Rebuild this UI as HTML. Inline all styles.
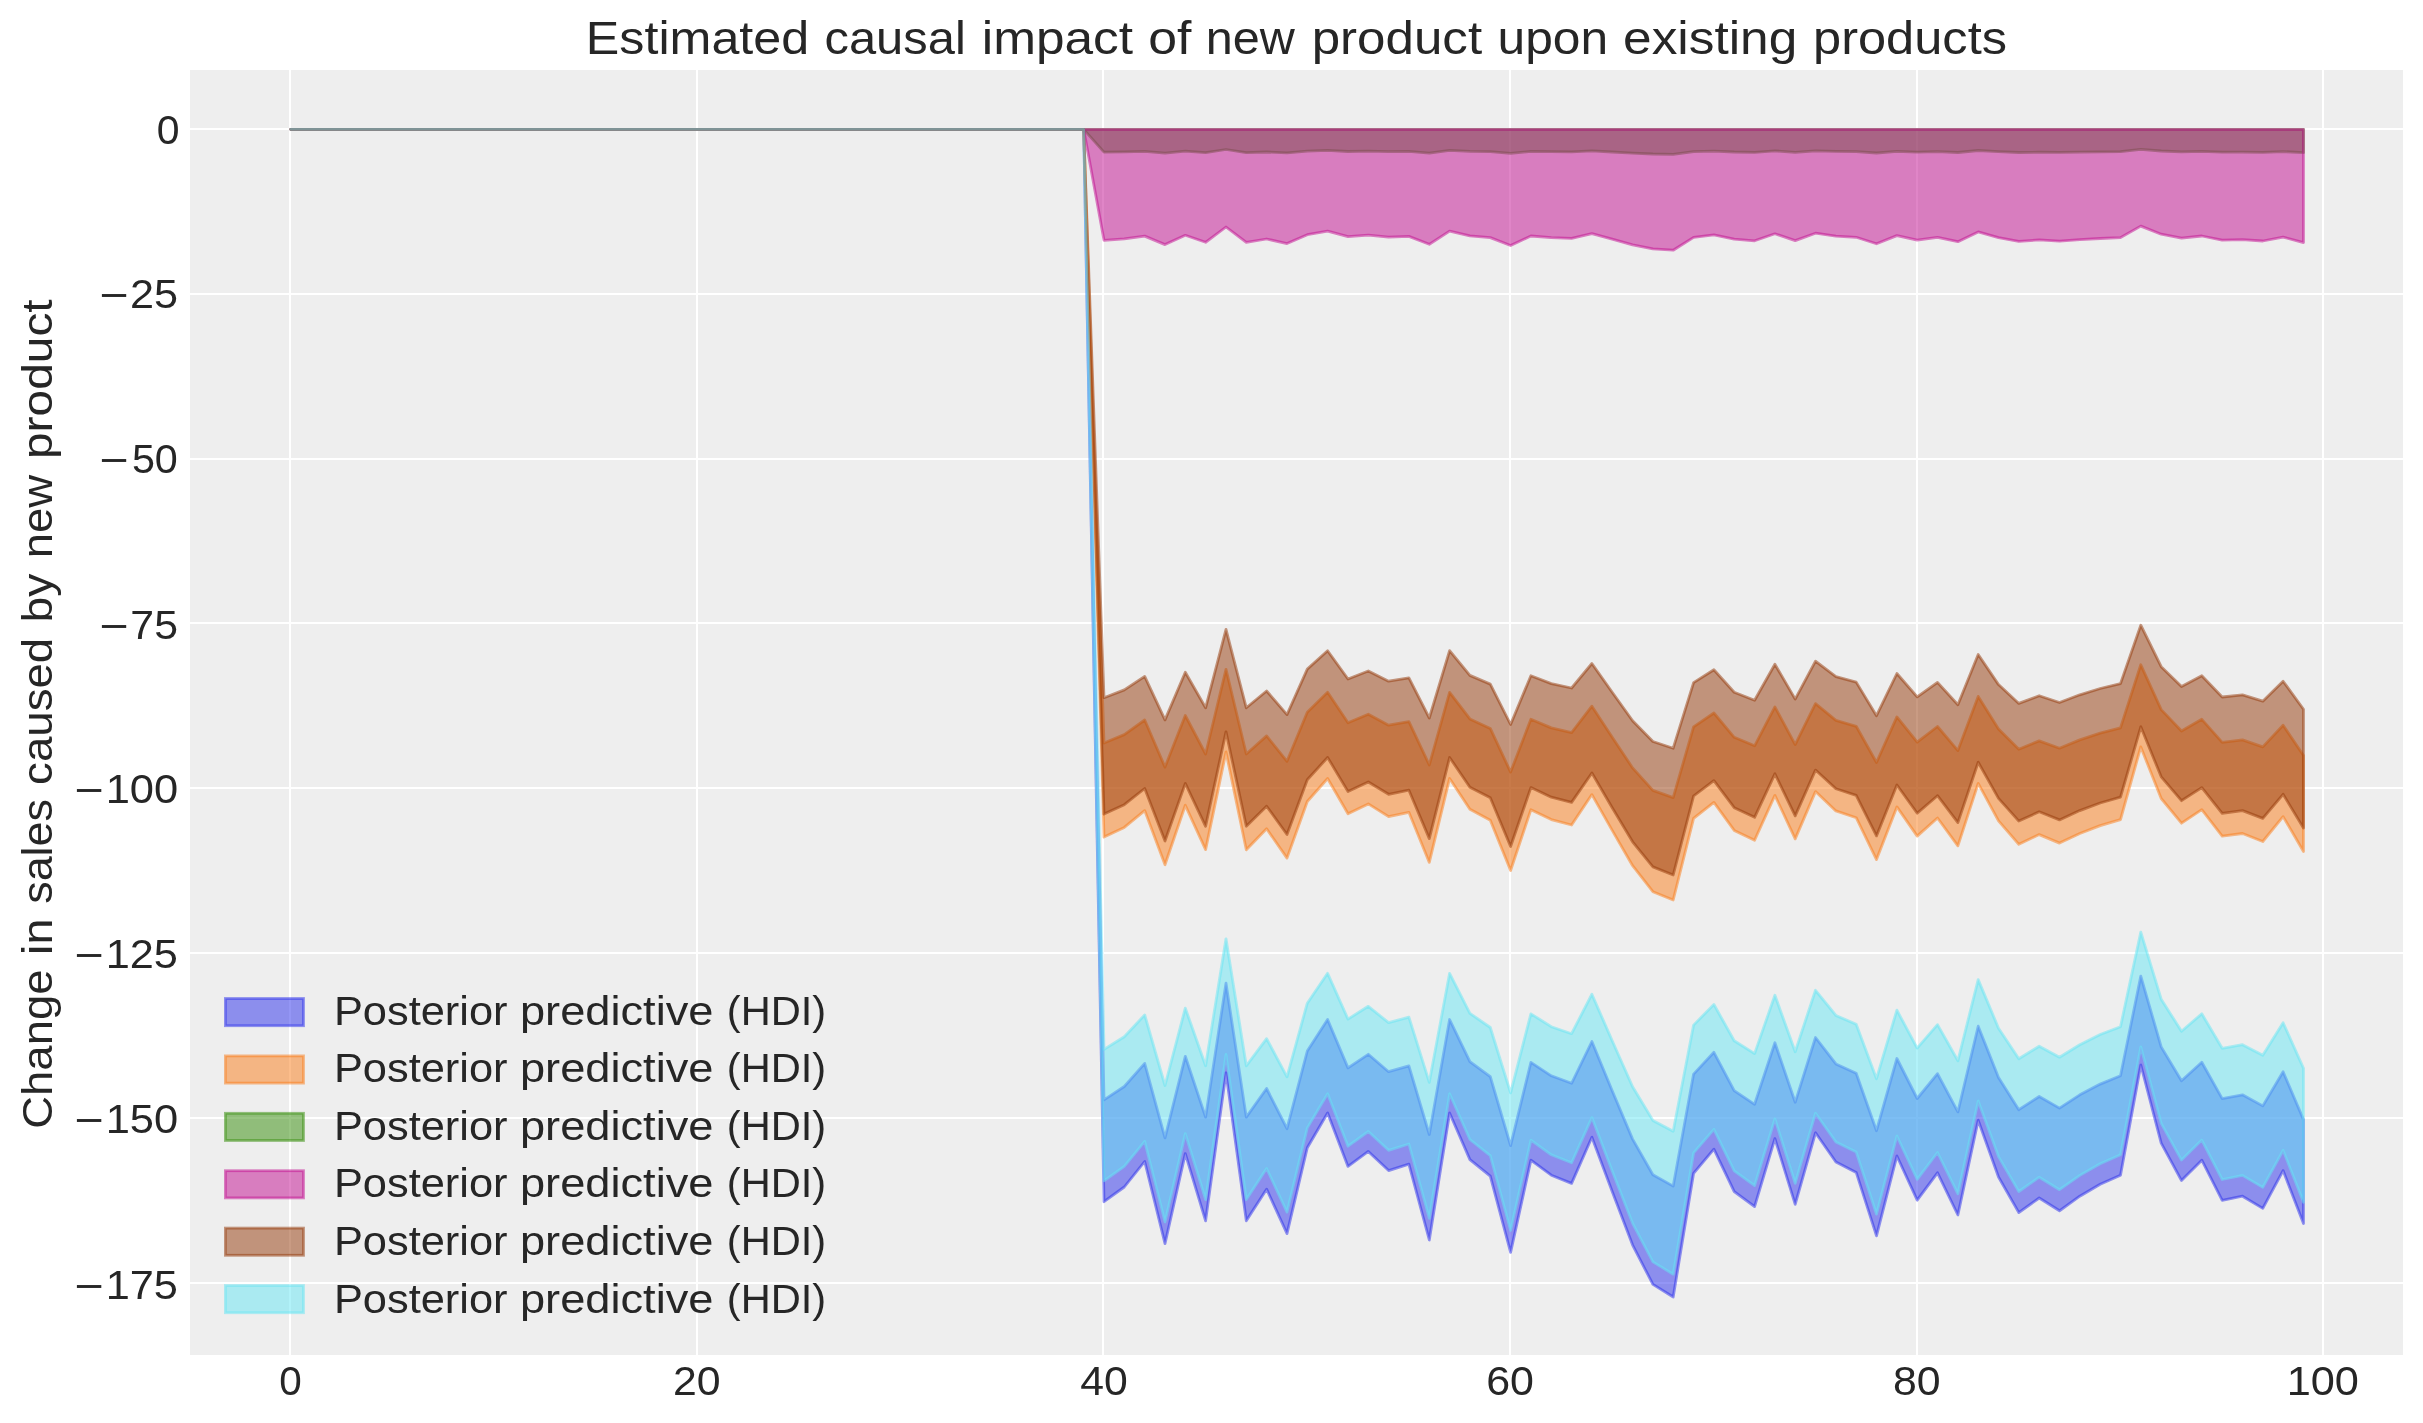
<!DOCTYPE html>
<html><head><meta charset="utf-8"><title>Estimated causal impact</title>
<style>
html,body{margin:0;padding:0;background:#fff;}
body{width:2423px;height:1423px;overflow:hidden;}
svg{display:block;will-change:transform;}
text{font-family:"Liberation Sans",sans-serif;fill:#262626;}
</style></head><body>
<svg width="2423" height="1423" viewBox="0 0 2423 1423">
<rect x="0" y="0" width="2423" height="1423" fill="#ffffff"/>
<rect x="190.0" y="70.0" width="2213.0" height="1285.0" fill="#eeeeee"/>
<defs><clipPath id="ax"><rect x="190.0" y="70.0" width="2213.0" height="1285.0"/></clipPath></defs>

<g fill="#ffffff" shape-rendering="crispEdges">
<rect x="289" y="70.0" width="2" height="1285.0"/>
<rect x="696" y="70.0" width="2" height="1285.0"/>
<rect x="1102" y="70.0" width="2" height="1285.0"/>
<rect x="1509" y="70.0" width="2" height="1285.0"/>
<rect x="1916" y="70.0" width="2" height="1285.0"/>
<rect x="2322" y="70.0" width="2" height="1285.0"/>
<rect x="190.0" y="128" width="2213.0" height="2"/>
<rect x="190.0" y="293" width="2213.0" height="2"/>
<rect x="190.0" y="458" width="2213.0" height="2"/>
<rect x="190.0" y="622" width="2213.0" height="2"/>
<rect x="190.0" y="787" width="2213.0" height="2"/>
<rect x="190.0" y="952" width="2213.0" height="2"/>
<rect x="190.0" y="1117" width="2213.0" height="2"/>
<rect x="190.0" y="1282" width="2213.0" height="2"/>
</g>
<g clip-path="url(#ax)" stroke-linejoin="round">
<polygon points="290.8,129.3 311.1,129.3 331.5,129.3 351.8,129.3 372.1,129.3 392.4,129.3 412.8,129.3 433.1,129.3 453.4,129.3 473.8,129.3 494.1,129.3 514.4,129.3 534.8,129.3 555.1,129.3 575.4,129.3 595.8,129.3 616.1,129.3 636.4,129.3 656.7,129.3 677.1,129.3 697.4,129.3 717.7,129.3 738.1,129.3 758.4,129.3 778.7,129.3 799.0,129.3 819.4,129.3 839.7,129.3 860.0,129.3 880.4,129.3 900.7,129.3 921.0,129.3 941.4,129.3 961.7,129.3 982.0,129.3 1002.3,129.3 1022.7,129.3 1043.0,129.3 1063.3,129.3 1083.7,129.3 1104.0,1099.8 1124.3,1086.5 1144.7,1063.4 1165.0,1137.8 1185.3,1056.3 1205.6,1117.1 1226.0,983.2 1246.3,1117.1 1266.6,1088.5 1287.0,1128.7 1307.3,1051.0 1327.6,1019.5 1348.0,1067.9 1368.3,1054.3 1388.6,1071.7 1408.9,1065.9 1429.3,1134.5 1449.6,1019.5 1469.9,1061.7 1490.3,1076.7 1510.6,1145.7 1530.9,1062.3 1551.3,1075.8 1571.6,1083.3 1591.9,1041.5 1612.2,1090.7 1632.6,1139.1 1652.9,1174.7 1673.2,1186.1 1693.6,1074.1 1713.9,1052.3 1734.2,1090.7 1754.6,1104.3 1774.9,1042.7 1795.2,1102.3 1815.5,1037.5 1835.9,1063.9 1856.2,1073.3 1876.5,1130.7 1896.9,1058.5 1917.2,1098.5 1937.5,1073.7 1957.9,1111.9 1978.2,1026.2 1998.5,1077.5 2018.8,1109.7 2039.2,1096.5 2059.5,1108.1 2079.8,1094.8 2100.2,1084.1 2120.5,1075.8 2140.8,976.1 2161.2,1046.9 2181.5,1080.7 2201.8,1062.3 2222.2,1098.6 2242.5,1094.8 2262.8,1105.9 2283.1,1071.7 2303.5,1119.6 2303.5,1223.6 2283.1,1170.6 2262.8,1208.4 2242.5,1196.2 2222.2,1200.4 2201.8,1160.2 2181.5,1180.6 2161.2,1143.2 2140.8,1065.0 2120.5,1175.2 2100.2,1184.3 2079.8,1196.2 2059.5,1210.8 2039.2,1198.0 2018.8,1212.6 1998.5,1177.0 1978.2,1120.3 1957.9,1215.0 1937.5,1172.8 1917.2,1200.2 1896.9,1156.0 1876.5,1235.8 1856.2,1172.4 1835.9,1162.0 1815.5,1132.8 1795.2,1204.4 1774.9,1138.6 1754.6,1206.6 1734.2,1191.6 1713.9,1149.2 1693.6,1173.3 1673.2,1297.0 1652.9,1284.4 1632.6,1245.1 1612.2,1191.6 1591.9,1137.3 1571.6,1183.4 1551.3,1175.2 1530.9,1160.2 1510.6,1252.4 1490.3,1176.1 1469.9,1159.6 1449.6,1113.0 1429.3,1240.0 1408.9,1164.2 1388.6,1170.6 1368.3,1151.4 1348.0,1166.4 1327.6,1113.0 1307.3,1147.8 1287.0,1233.6 1266.6,1189.2 1246.3,1220.8 1226.0,1072.8 1205.6,1220.8 1185.3,1153.6 1165.0,1243.7 1144.7,1161.5 1124.3,1187.0 1104.0,1201.7 1083.7,129.3 1063.3,129.3 1043.0,129.3 1022.7,129.3 1002.3,129.3 982.0,129.3 961.7,129.3 941.4,129.3 921.0,129.3 900.7,129.3 880.4,129.3 860.0,129.3 839.7,129.3 819.4,129.3 799.0,129.3 778.7,129.3 758.4,129.3 738.1,129.3 717.7,129.3 697.4,129.3 677.1,129.3 656.7,129.3 636.4,129.3 616.1,129.3 595.8,129.3 575.4,129.3 555.1,129.3 534.8,129.3 514.4,129.3 494.1,129.3 473.8,129.3 453.4,129.3 433.1,129.3 412.8,129.3 392.4,129.3 372.1,129.3 351.8,129.3 331.5,129.3 311.1,129.3 290.8,129.3" fill="#2a2eec" fill-opacity="0.5" stroke="#2a2eec" stroke-opacity="0.5" stroke-width="2.78"/>
<polygon points="290.8,129.3 311.1,129.3 331.5,129.3 351.8,129.3 372.1,129.3 392.4,129.3 412.8,129.3 433.1,129.3 453.4,129.3 473.8,129.3 494.1,129.3 514.4,129.3 534.8,129.3 555.1,129.3 575.4,129.3 595.8,129.3 616.1,129.3 636.4,129.3 656.7,129.3 677.1,129.3 697.4,129.3 717.7,129.3 738.1,129.3 758.4,129.3 778.7,129.3 799.0,129.3 819.4,129.3 839.7,129.3 860.0,129.3 880.4,129.3 900.7,129.3 921.0,129.3 941.4,129.3 961.7,129.3 982.0,129.3 1002.3,129.3 1022.7,129.3 1043.0,129.3 1063.3,129.3 1083.7,129.3 1104.0,743.0 1124.3,734.6 1144.7,720.0 1165.0,767.1 1185.3,715.5 1205.6,754.0 1226.0,669.3 1246.3,754.0 1266.6,735.9 1287.0,761.3 1307.3,712.2 1327.6,692.3 1348.0,722.8 1368.3,714.2 1388.6,725.2 1408.9,721.6 1429.3,765.0 1449.6,692.3 1469.9,718.9 1490.3,728.4 1510.6,772.1 1530.9,719.3 1551.3,727.9 1571.6,732.6 1591.9,706.2 1612.2,737.3 1632.6,767.9 1652.9,790.4 1673.2,797.6 1693.6,726.8 1713.9,713.0 1734.2,737.3 1754.6,745.8 1774.9,706.9 1795.2,744.6 1815.5,703.6 1835.9,720.3 1856.2,726.3 1876.5,762.5 1896.9,716.9 1917.2,742.2 1937.5,726.5 1957.9,750.6 1978.2,696.4 1998.5,728.9 2018.8,749.3 2039.2,740.9 2059.5,748.2 2079.8,739.9 2100.2,733.1 2120.5,727.9 2140.8,664.8 2161.2,709.6 2181.5,731.0 2201.8,719.3 2222.2,742.3 2242.5,739.9 2262.8,746.9 2283.1,725.2 2303.5,755.6 2303.5,851.5 2283.1,816.6 2262.8,841.5 2242.5,833.5 2222.2,836.2 2201.8,809.7 2181.5,823.2 2161.2,798.5 2140.8,746.9 2120.5,819.6 2100.2,825.6 2079.8,833.5 2059.5,843.1 2039.2,834.6 2018.8,844.3 1998.5,820.8 1978.2,783.4 1957.9,845.9 1937.5,818.0 1917.2,836.1 1896.9,806.9 1876.5,859.6 1856.2,817.7 1835.9,810.9 1815.5,791.6 1795.2,838.9 1774.9,795.4 1754.6,840.3 1734.2,830.4 1713.9,802.4 1693.6,818.3 1673.2,900.0 1652.9,891.7 1632.6,865.7 1612.2,830.4 1591.9,794.6 1571.6,825.0 1551.3,819.6 1530.9,809.7 1510.6,870.5 1490.3,820.2 1469.9,809.3 1449.6,778.5 1429.3,862.4 1408.9,812.3 1388.6,816.6 1368.3,803.9 1348.0,813.8 1327.6,778.5 1307.3,801.5 1287.0,858.1 1266.6,828.8 1246.3,849.7 1226.0,752.0 1205.6,849.7 1185.3,805.3 1165.0,864.8 1144.7,810.6 1124.3,827.4 1104.0,837.1 1083.7,129.3 1063.3,129.3 1043.0,129.3 1022.7,129.3 1002.3,129.3 982.0,129.3 961.7,129.3 941.4,129.3 921.0,129.3 900.7,129.3 880.4,129.3 860.0,129.3 839.7,129.3 819.4,129.3 799.0,129.3 778.7,129.3 758.4,129.3 738.1,129.3 717.7,129.3 697.4,129.3 677.1,129.3 656.7,129.3 636.4,129.3 616.1,129.3 595.8,129.3 575.4,129.3 555.1,129.3 534.8,129.3 514.4,129.3 494.1,129.3 473.8,129.3 453.4,129.3 433.1,129.3 412.8,129.3 392.4,129.3 372.1,129.3 351.8,129.3 331.5,129.3 311.1,129.3 290.8,129.3" fill="#fa7c17" fill-opacity="0.5" stroke="#fa7c17" stroke-opacity="0.5" stroke-width="2.78"/>
<polygon points="290.8,129.3 311.1,129.3 331.5,129.3 351.8,129.3 372.1,129.3 392.4,129.3 412.8,129.3 433.1,129.3 453.4,129.3 473.8,129.3 494.1,129.3 514.4,129.3 534.8,129.3 555.1,129.3 575.4,129.3 595.8,129.3 616.1,129.3 636.4,129.3 656.7,129.3 677.1,129.3 697.4,129.3 717.7,129.3 738.1,129.3 758.4,129.3 778.7,129.3 799.0,129.3 819.4,129.3 839.7,129.3 860.0,129.3 880.4,129.3 900.7,129.3 921.0,129.3 941.4,129.3 961.7,129.3 982.0,129.3 1002.3,129.3 1022.7,129.3 1043.0,129.3 1063.3,129.3 1083.7,129.3 1104.0,129.3 1124.3,129.3 1144.7,129.3 1165.0,129.3 1185.3,129.3 1205.6,129.3 1226.0,129.3 1246.3,129.3 1266.6,129.3 1287.0,129.3 1307.3,129.3 1327.6,129.3 1348.0,129.3 1368.3,129.3 1388.6,129.3 1408.9,129.3 1429.3,129.3 1449.6,129.3 1469.9,129.3 1490.3,129.3 1510.6,129.3 1530.9,129.3 1551.3,129.3 1571.6,129.3 1591.9,129.3 1612.2,129.3 1632.6,129.3 1652.9,129.3 1673.2,129.3 1693.6,129.3 1713.9,129.3 1734.2,129.3 1754.6,129.3 1774.9,129.3 1795.2,129.3 1815.5,129.3 1835.9,129.3 1856.2,129.3 1876.5,129.3 1896.9,129.3 1917.2,129.3 1937.5,129.3 1957.9,129.3 1978.2,129.3 1998.5,129.3 2018.8,129.3 2039.2,129.3 2059.5,129.3 2079.8,129.3 2100.2,129.3 2120.5,129.3 2140.8,129.3 2161.2,129.3 2181.5,129.3 2201.8,129.3 2222.2,129.3 2242.5,129.3 2262.8,129.3 2283.1,129.3 2303.5,129.3 2303.5,152.7 2283.1,151.6 2262.8,152.4 2242.5,152.1 2222.2,152.2 2201.8,151.4 2181.5,151.8 2161.2,151.0 2140.8,149.3 2120.5,151.7 2100.2,151.9 2079.8,152.1 2059.5,152.4 2039.2,152.2 2018.8,152.5 1998.5,151.7 1978.2,150.5 1957.9,152.5 1937.5,151.6 1917.2,152.2 1896.9,151.3 1876.5,153.0 1856.2,151.6 1835.9,151.4 1815.5,150.8 1795.2,152.3 1774.9,150.9 1754.6,152.4 1734.2,152.0 1713.9,151.1 1693.6,151.6 1673.2,154.3 1652.9,154.0 1632.6,153.2 1612.2,152.0 1591.9,150.9 1571.6,151.9 1551.3,151.7 1530.9,151.4 1510.6,153.3 1490.3,151.7 1469.9,151.3 1449.6,150.4 1429.3,153.1 1408.9,151.4 1388.6,151.6 1368.3,151.2 1348.0,151.5 1327.6,150.4 1307.3,151.1 1287.0,152.9 1266.6,152.0 1246.3,152.7 1226.0,149.5 1205.6,152.7 1185.3,151.2 1165.0,153.1 1144.7,151.4 1124.3,151.9 1104.0,152.2 1083.7,129.3 1063.3,129.3 1043.0,129.3 1022.7,129.3 1002.3,129.3 982.0,129.3 961.7,129.3 941.4,129.3 921.0,129.3 900.7,129.3 880.4,129.3 860.0,129.3 839.7,129.3 819.4,129.3 799.0,129.3 778.7,129.3 758.4,129.3 738.1,129.3 717.7,129.3 697.4,129.3 677.1,129.3 656.7,129.3 636.4,129.3 616.1,129.3 595.8,129.3 575.4,129.3 555.1,129.3 534.8,129.3 514.4,129.3 494.1,129.3 473.8,129.3 453.4,129.3 433.1,129.3 412.8,129.3 392.4,129.3 372.1,129.3 351.8,129.3 331.5,129.3 311.1,129.3 290.8,129.3" fill="#328c06" fill-opacity="0.5" stroke="#328c06" stroke-opacity="0.5" stroke-width="2.78"/>
<polygon points="290.8,129.3 311.1,129.3 331.5,129.3 351.8,129.3 372.1,129.3 392.4,129.3 412.8,129.3 433.1,129.3 453.4,129.3 473.8,129.3 494.1,129.3 514.4,129.3 534.8,129.3 555.1,129.3 575.4,129.3 595.8,129.3 616.1,129.3 636.4,129.3 656.7,129.3 677.1,129.3 697.4,129.3 717.7,129.3 738.1,129.3 758.4,129.3 778.7,129.3 799.0,129.3 819.4,129.3 839.7,129.3 860.0,129.3 880.4,129.3 900.7,129.3 921.0,129.3 941.4,129.3 961.7,129.3 982.0,129.3 1002.3,129.3 1022.7,129.3 1043.0,129.3 1063.3,129.3 1083.7,129.3 1104.0,129.3 1124.3,129.3 1144.7,129.3 1165.0,129.3 1185.3,129.3 1205.6,129.3 1226.0,129.3 1246.3,129.3 1266.6,129.3 1287.0,129.3 1307.3,129.3 1327.6,129.3 1348.0,129.3 1368.3,129.3 1388.6,129.3 1408.9,129.3 1429.3,129.3 1449.6,129.3 1469.9,129.3 1490.3,129.3 1510.6,129.3 1530.9,129.3 1551.3,129.3 1571.6,129.3 1591.9,129.3 1612.2,129.3 1632.6,129.3 1652.9,129.3 1673.2,129.3 1693.6,129.3 1713.9,129.3 1734.2,129.3 1754.6,129.3 1774.9,129.3 1795.2,129.3 1815.5,129.3 1835.9,129.3 1856.2,129.3 1876.5,129.3 1896.9,129.3 1917.2,129.3 1937.5,129.3 1957.9,129.3 1978.2,129.3 1998.5,129.3 2018.8,129.3 2039.2,129.3 2059.5,129.3 2079.8,129.3 2100.2,129.3 2120.5,129.3 2140.8,129.3 2161.2,129.3 2181.5,129.3 2201.8,129.3 2222.2,129.3 2242.5,129.3 2262.8,129.3 2283.1,129.3 2303.5,129.3 2303.5,242.6 2283.1,237.1 2262.8,241.0 2242.5,239.7 2222.2,240.2 2201.8,236.0 2181.5,238.1 2161.2,234.2 2140.8,226.1 2120.5,237.6 2100.2,238.5 2079.8,239.7 2059.5,241.2 2039.2,239.9 2018.8,241.4 1998.5,237.7 1978.2,231.9 1957.9,241.7 1937.5,237.3 1917.2,240.1 1896.9,235.6 1876.5,243.8 1856.2,237.3 1835.9,236.2 1815.5,233.2 1795.2,240.6 1774.9,233.8 1754.6,240.8 1734.2,239.2 1713.9,234.9 1693.6,237.4 1673.2,250.2 1652.9,248.9 1632.6,244.8 1612.2,239.2 1591.9,233.6 1571.6,238.4 1551.3,237.6 1530.9,236.0 1510.6,245.5 1490.3,237.6 1469.9,235.9 1449.6,231.1 1429.3,244.3 1408.9,236.4 1388.6,237.1 1368.3,235.1 1348.0,236.6 1327.6,231.1 1307.3,234.7 1287.0,243.6 1266.6,239.0 1246.3,242.3 1226.0,227.0 1205.6,242.3 1185.3,235.3 1165.0,244.6 1144.7,236.1 1124.3,238.8 1104.0,240.3 1083.7,129.3 1063.3,129.3 1043.0,129.3 1022.7,129.3 1002.3,129.3 982.0,129.3 961.7,129.3 941.4,129.3 921.0,129.3 900.7,129.3 880.4,129.3 860.0,129.3 839.7,129.3 819.4,129.3 799.0,129.3 778.7,129.3 758.4,129.3 738.1,129.3 717.7,129.3 697.4,129.3 677.1,129.3 656.7,129.3 636.4,129.3 616.1,129.3 595.8,129.3 575.4,129.3 555.1,129.3 534.8,129.3 514.4,129.3 494.1,129.3 473.8,129.3 453.4,129.3 433.1,129.3 412.8,129.3 392.4,129.3 372.1,129.3 351.8,129.3 331.5,129.3 311.1,129.3 290.8,129.3" fill="#c10c90" fill-opacity="0.5" stroke="#c10c90" stroke-opacity="0.5" stroke-width="2.78"/>
<polygon points="290.8,129.3 311.1,129.3 331.5,129.3 351.8,129.3 372.1,129.3 392.4,129.3 412.8,129.3 433.1,129.3 453.4,129.3 473.8,129.3 494.1,129.3 514.4,129.3 534.8,129.3 555.1,129.3 575.4,129.3 595.8,129.3 616.1,129.3 636.4,129.3 656.7,129.3 677.1,129.3 697.4,129.3 717.7,129.3 738.1,129.3 758.4,129.3 778.7,129.3 799.0,129.3 819.4,129.3 839.7,129.3 860.0,129.3 880.4,129.3 900.7,129.3 921.0,129.3 941.4,129.3 961.7,129.3 982.0,129.3 1002.3,129.3 1022.7,129.3 1043.0,129.3 1063.3,129.3 1083.7,129.3 1104.0,697.7 1124.3,689.9 1144.7,676.4 1165.0,719.9 1185.3,672.2 1205.6,707.8 1226.0,629.4 1246.3,707.8 1266.6,691.0 1287.0,714.6 1307.3,669.1 1327.6,650.7 1348.0,679.0 1368.3,671.0 1388.6,681.2 1408.9,677.8 1429.3,718.0 1449.6,650.7 1469.9,675.4 1490.3,684.1 1510.6,724.5 1530.9,675.7 1551.3,683.6 1571.6,688.0 1591.9,663.5 1612.2,692.3 1632.6,720.7 1652.9,741.5 1673.2,748.2 1693.6,682.6 1713.9,669.8 1734.2,692.3 1754.6,700.3 1774.9,664.2 1795.2,699.1 1815.5,661.2 1835.9,676.6 1856.2,682.1 1876.5,715.7 1896.9,673.5 1917.2,696.9 1937.5,682.4 1957.9,704.7 1978.2,654.5 1998.5,684.6 2018.8,703.4 2039.2,695.7 2059.5,702.5 2079.8,694.8 2100.2,688.5 2120.5,683.6 2140.8,625.2 2161.2,666.7 2181.5,686.5 2201.8,675.7 2222.2,697.0 2242.5,694.8 2262.8,701.2 2283.1,681.2 2303.5,709.3 2303.5,828.1 2283.1,794.3 2262.8,818.4 2242.5,810.6 2222.2,813.3 2201.8,787.6 2181.5,800.7 2161.2,776.8 2140.8,726.8 2120.5,797.2 2100.2,803.0 2079.8,810.6 2059.5,819.9 2039.2,811.8 2018.8,821.1 1998.5,798.4 1978.2,762.2 1957.9,822.6 1937.5,795.7 1917.2,813.2 1896.9,785.0 1876.5,835.9 1856.2,795.4 1835.9,788.8 1815.5,770.1 1795.2,815.9 1774.9,773.8 1754.6,817.3 1734.2,807.7 1713.9,780.6 1693.6,796.0 1673.2,875.0 1652.9,866.9 1632.6,841.8 1612.2,807.7 1591.9,773.0 1571.6,802.4 1551.3,797.2 1530.9,787.6 1510.6,846.5 1490.3,797.8 1469.9,787.2 1449.6,757.5 1429.3,838.6 1408.9,790.2 1388.6,794.3 1368.3,782.0 1348.0,791.6 1327.6,757.5 1307.3,779.7 1287.0,834.5 1266.6,806.2 1246.3,826.3 1226.0,731.8 1205.6,826.3 1185.3,783.4 1165.0,841.0 1144.7,788.5 1124.3,804.7 1104.0,814.1 1083.7,129.3 1063.3,129.3 1043.0,129.3 1022.7,129.3 1002.3,129.3 982.0,129.3 961.7,129.3 941.4,129.3 921.0,129.3 900.7,129.3 880.4,129.3 860.0,129.3 839.7,129.3 819.4,129.3 799.0,129.3 778.7,129.3 758.4,129.3 738.1,129.3 717.7,129.3 697.4,129.3 677.1,129.3 656.7,129.3 636.4,129.3 616.1,129.3 595.8,129.3 575.4,129.3 555.1,129.3 534.8,129.3 514.4,129.3 494.1,129.3 473.8,129.3 453.4,129.3 433.1,129.3 412.8,129.3 392.4,129.3 372.1,129.3 351.8,129.3 331.5,129.3 311.1,129.3 290.8,129.3" fill="#933708" fill-opacity="0.5" stroke="#933708" stroke-opacity="0.5" stroke-width="2.78"/>
<polygon points="290.8,129.3 311.1,129.3 331.5,129.3 351.8,129.3 372.1,129.3 392.4,129.3 412.8,129.3 433.1,129.3 453.4,129.3 473.8,129.3 494.1,129.3 514.4,129.3 534.8,129.3 555.1,129.3 575.4,129.3 595.8,129.3 616.1,129.3 636.4,129.3 656.7,129.3 677.1,129.3 697.4,129.3 717.7,129.3 738.1,129.3 758.4,129.3 778.7,129.3 799.0,129.3 819.4,129.3 839.7,129.3 860.0,129.3 880.4,129.3 900.7,129.3 921.0,129.3 941.4,129.3 961.7,129.3 982.0,129.3 1002.3,129.3 1022.7,129.3 1043.0,129.3 1063.3,129.3 1083.7,129.3 1104.0,1049.4 1124.3,1036.8 1144.7,1014.9 1165.0,1085.5 1185.3,1008.1 1205.6,1065.8 1226.0,938.8 1246.3,1065.8 1266.6,1038.7 1287.0,1076.8 1307.3,1003.2 1327.6,973.3 1348.0,1019.1 1368.3,1006.3 1388.6,1022.7 1408.9,1017.2 1429.3,1082.3 1449.6,973.3 1469.9,1013.3 1490.3,1027.5 1510.6,1092.9 1530.9,1013.8 1551.3,1026.7 1571.6,1033.7 1591.9,994.2 1612.2,1040.8 1632.6,1086.7 1652.9,1120.4 1673.2,1131.2 1693.6,1025.1 1713.9,1004.4 1734.2,1040.8 1754.6,1053.6 1774.9,995.3 1795.2,1051.7 1815.5,990.3 1835.9,1015.4 1856.2,1024.3 1876.5,1078.7 1896.9,1010.2 1917.2,1048.1 1937.5,1024.6 1957.9,1060.8 1978.2,979.6 1998.5,1028.2 2018.8,1058.8 2039.2,1046.2 2059.5,1057.2 2079.8,1044.7 2100.2,1034.5 2120.5,1026.7 2140.8,932.1 2161.2,999.2 2181.5,1031.3 2201.8,1013.8 2222.2,1048.3 2242.5,1044.7 2262.8,1055.2 2283.1,1022.7 2303.5,1068.2 2303.5,1202.3 2283.1,1150.3 2262.8,1187.4 2242.5,1175.4 2222.2,1179.5 2201.8,1140.1 2181.5,1160.1 2161.2,1123.4 2140.8,1046.8 2120.5,1154.8 2100.2,1163.7 2079.8,1175.4 2059.5,1189.7 2039.2,1177.2 2018.8,1191.5 1998.5,1156.6 1978.2,1101.0 1957.9,1193.8 1937.5,1152.5 1917.2,1179.3 1896.9,1136.0 1876.5,1214.2 1856.2,1152.1 1835.9,1141.9 1815.5,1113.2 1795.2,1183.4 1774.9,1118.9 1754.6,1185.6 1734.2,1170.9 1713.9,1129.3 1693.6,1152.9 1673.2,1274.2 1652.9,1261.9 1632.6,1223.3 1612.2,1170.9 1591.9,1117.6 1571.6,1162.8 1551.3,1154.8 1530.9,1140.1 1510.6,1230.5 1490.3,1155.7 1469.9,1139.5 1449.6,1093.8 1429.3,1218.3 1408.9,1144.0 1388.6,1150.3 1368.3,1131.5 1348.0,1146.2 1327.6,1093.8 1307.3,1127.9 1287.0,1212.1 1266.6,1168.5 1246.3,1199.5 1226.0,1054.4 1205.6,1199.5 1185.3,1133.6 1165.0,1222.0 1144.7,1141.4 1124.3,1166.4 1104.0,1180.8 1083.7,129.3 1063.3,129.3 1043.0,129.3 1022.7,129.3 1002.3,129.3 982.0,129.3 961.7,129.3 941.4,129.3 921.0,129.3 900.7,129.3 880.4,129.3 860.0,129.3 839.7,129.3 819.4,129.3 799.0,129.3 778.7,129.3 758.4,129.3 738.1,129.3 717.7,129.3 697.4,129.3 677.1,129.3 656.7,129.3 636.4,129.3 616.1,129.3 595.8,129.3 575.4,129.3 555.1,129.3 534.8,129.3 514.4,129.3 494.1,129.3 473.8,129.3 453.4,129.3 433.1,129.3 412.8,129.3 392.4,129.3 372.1,129.3 351.8,129.3 331.5,129.3 311.1,129.3 290.8,129.3" fill="#65e5f3" fill-opacity="0.5" stroke="#65e5f3" stroke-opacity="0.5" stroke-width="2.78"/>
</g>
<rect x="225.4" y="998.5" width="78.1" height="27.2" fill="#2a2eec" fill-opacity="0.5" stroke="#2a2eec" stroke-opacity="0.5" stroke-width="2.78"/>
<rect x="225.4" y="1055.9" width="78.1" height="27.2" fill="#fa7c17" fill-opacity="0.5" stroke="#fa7c17" stroke-opacity="0.5" stroke-width="2.78"/>
<rect x="225.4" y="1113.3" width="78.1" height="27.2" fill="#328c06" fill-opacity="0.5" stroke="#328c06" stroke-opacity="0.5" stroke-width="2.78"/>
<rect x="225.4" y="1170.7" width="78.1" height="27.2" fill="#c10c90" fill-opacity="0.5" stroke="#c10c90" stroke-opacity="0.5" stroke-width="2.78"/>
<rect x="225.4" y="1228.1" width="78.1" height="27.2" fill="#933708" fill-opacity="0.5" stroke="#933708" stroke-opacity="0.5" stroke-width="2.78"/>
<rect x="225.4" y="1285.5" width="78.1" height="27.2" fill="#65e5f3" fill-opacity="0.5" stroke="#65e5f3" stroke-opacity="0.5" stroke-width="2.78"/>
<g font-size="46.19"><text transform="translate(585.82,54.04) scale(1.0874,1)">Estimated</text><text transform="translate(824.52,54.04) scale(1.0580,1)">causal</text><text transform="translate(981.74,54.04) scale(1.1126,1)">impact</text><text transform="translate(1148.18,54.04) scale(1.1220,1)">of</text><text transform="translate(1205.82,54.04) scale(1.0515,1)">new</text><text transform="translate(1311.65,54.04) scale(1.1066,1)">product</text><text transform="translate(1497.52,54.04) scale(1.0769,1)">upon</text><text transform="translate(1623.07,54.04) scale(1.1125,1)">existing</text><text transform="translate(1813.03,54.04) scale(1.0949,1)">products</text></g>
<g font-size="43.3" transform="translate(0,1126.4) rotate(-90)"><text transform="translate(-2.36,51.63) scale(1.0506,1)">Change</text><text transform="translate(171.39,51.63) scale(1.0803,1)">in</text><text transform="translate(222.62,51.63) scale(1.0368,1)">sales</text><text transform="translate(341.52,51.63) scale(1.0540,1)">caused</text><text transform="translate(503.79,51.63) scale(1.0717,1)">by</text><text transform="translate(568.20,51.63) scale(1.0500,1)">new</text><text transform="translate(667.41,51.63) scale(1.1052,1)">product</text></g>
<g font-size="40.41"><text transform="translate(333.91,1024.65) scale(1.0741,1)">Posterior</text><text transform="translate(519.93,1024.65) scale(1.1192,1)">predictive</text><text transform="translate(726.79,1024.65) scale(1.0308,1)">(HDI)</text></g>
<g font-size="40.41"><text transform="translate(333.91,1082.25) scale(1.0741,1)">Posterior</text><text transform="translate(519.93,1082.25) scale(1.1192,1)">predictive</text><text transform="translate(726.79,1082.25) scale(1.0308,1)">(HDI)</text></g>
<g font-size="40.41"><text transform="translate(333.91,1139.85) scale(1.0741,1)">Posterior</text><text transform="translate(519.93,1139.85) scale(1.1192,1)">predictive</text><text transform="translate(726.79,1139.85) scale(1.0308,1)">(HDI)</text></g>
<g font-size="40.41"><text transform="translate(333.91,1197.45) scale(1.0741,1)">Posterior</text><text transform="translate(519.93,1197.45) scale(1.1192,1)">predictive</text><text transform="translate(726.79,1197.45) scale(1.0308,1)">(HDI)</text></g>
<g font-size="40.41"><text transform="translate(333.91,1255.05) scale(1.0741,1)">Posterior</text><text transform="translate(519.93,1255.05) scale(1.1192,1)">predictive</text><text transform="translate(726.79,1255.05) scale(1.0308,1)">(HDI)</text></g>
<g font-size="40.41"><text transform="translate(333.91,1312.65) scale(1.0741,1)">Posterior</text><text transform="translate(519.93,1312.65) scale(1.1192,1)">predictive</text><text transform="translate(726.79,1312.65) scale(1.0308,1)">(HDI)</text></g>
<g font-size="41.31"><text transform="translate(279.23,1394.68) scale(0.9798,1)">0</text></g>
<g font-size="41.31"><text transform="translate(673.00,1394.68) scale(1.0366,1)">20</text></g>
<g font-size="41.31"><text transform="translate(1080.16,1394.68) scale(1.0346,1)">40</text></g>
<g font-size="41.31"><text transform="translate(1486.13,1394.68) scale(1.0397,1)">60</text></g>
<g font-size="41.31"><text transform="translate(1892.96,1394.68) scale(1.0354,1)">80</text></g>
<g font-size="41.31"><text transform="translate(2286.67,1394.68) scale(1.0486,1)">100</text></g>
<g font-size="41.31"><text transform="translate(156.71,143.98) scale(0.9900,1)">0</text></g>
<g font-size="41.31"><text transform="translate(129.91,307.98) scale(1.0462,1)">25</text></g>
<g font-size="41.31"><text transform="translate(131.90,472.98) scale(1.0000,1)">50</text></g>
<g font-size="41.31"><text transform="translate(130.33,638.98) scale(1.0367,1)">75</text></g>
<g font-size="41.31"><text transform="translate(105.64,802.98) scale(1.0521,1)">100</text></g>
<g font-size="41.31"><text transform="translate(105.65,967.98) scale(1.0490,1)">125</text></g>
<g font-size="41.31"><text transform="translate(105.64,1132.98) scale(1.0521,1)">150</text></g>
<g font-size="41.31"><text transform="translate(105.65,1298.98) scale(1.0490,1)">175</text></g>
<rect x="101.9" y="294.05" width="24.3" height="2.9" fill="#262626"/>
<rect x="101.9" y="459.05" width="24.3" height="2.9" fill="#262626"/>
<rect x="101.9" y="625.05" width="24.3" height="2.9" fill="#262626"/>
<rect x="76.9" y="789.05" width="24.4" height="2.9" fill="#262626"/>
<rect x="76.9" y="954.05" width="24.4" height="2.9" fill="#262626"/>
<rect x="76.9" y="1119.05" width="24.4" height="2.9" fill="#262626"/>
<rect x="76.9" y="1285.05" width="24.4" height="2.9" fill="#262626"/>
</svg></body></html>
